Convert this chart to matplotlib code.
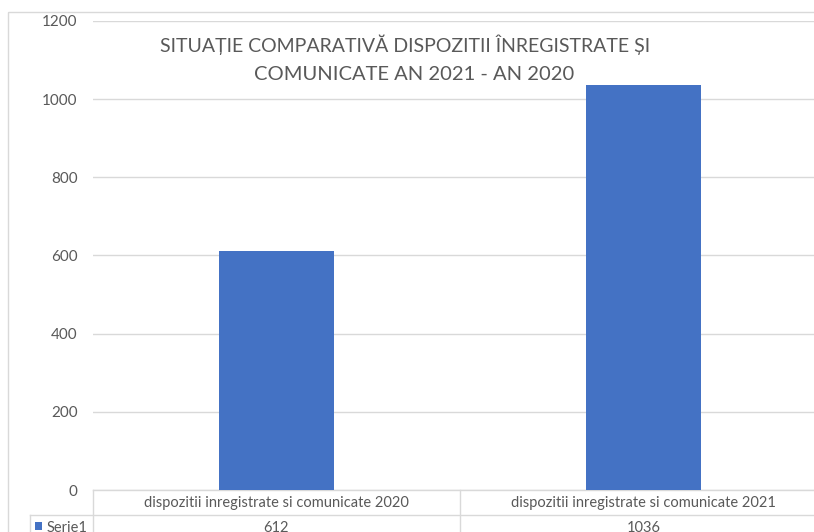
import matplotlib
matplotlib.use("Agg")
import matplotlib.pyplot as plt
from matplotlib.patches import Rectangle
from matplotlib.lines import Line2D
from matplotlib.transforms import blended_transform_factory, Affine2D

categories = ["dispozitii inregistrate si comunicate 2020",
              "dispozitii inregistrate si comunicate 2021"]
values = [612, 1036]
series_name = "Serie1"
title_lines = ["SITUAȚIE COMPARATIVĂ DISPOZITII ÎNREGISTRATE ȘI",
               "COMUNICATE AN 2021 - AN 2020"]
yticks = [0, 200, 400, 600, 800, 1000, 1200]

W, H = 814, 532
plt.rcParams['font.family'] = ['Lato', 'DejaVu Sans']
fig = plt.figure(figsize=(W / 100, H / 100), dpi=100)
fig.patch.set_facecolor("white")

GRAY = "#d9d9d9"
TXT = "#595959"
BLUE = "#4472c4"

# pixel transform (origin top-left)
pix = Affine2D().scale(1 / W, -1 / H).translate(0, 1) + fig.transFigure

# chart border
fig.add_artist(Rectangle((8, 12), 900, 600, transform=pix, fill=False,
                         edgecolor=GRAY, linewidth=1.0))

x0, x1, ybot, ytop = 93, 814, 490, 21
cat_w = 367
ax = fig.add_axes([x0 / W, (H - ybot) / H, (x1 - x0) / W, (ybot - ytop) / H])
ax.set_xlim(-0.5, -0.5 + (x1 - x0) / cat_w)
ax.set_ylim(0, 1200)
xs = list(range(len(categories)))
ax.bar(xs, values, width=0.314, color=BLUE, zorder=3)
ax.set_yticks(yticks)
ax.set_yticklabels([str(v) for v in yticks], color=TXT, fontsize=11)
ax.tick_params(axis='y', length=0, pad=11)
ax.set_xticks([])
ax.grid(axis='y', color=GRAY, linewidth=1.0, zorder=0)
for s in ax.spines.values():
    s.set_visible(False)

# data table
bt = blended_transform_factory(ax.transData, pix)
ax.add_line(Line2D([-0.5, 3], [490, 490], transform=bt, color=GRAY, lw=1.0, clip_on=False))
ax.add_line(Line2D([-0.5 - 63 / cat_w, 3], [515, 515], transform=bt, color=GRAY, lw=1.0, clip_on=False))
ax.add_line(Line2D([-0.5, -0.5], [490, 540], transform=bt, color=GRAY, lw=1.0, clip_on=False))
ax.add_line(Line2D([-0.5 - 63 / cat_w] * 2, [515, 540], transform=bt, color=GRAY, lw=1.0, clip_on=False))
for i in xs:
    ax.add_line(Line2D([i + 0.5, i + 0.5], [490, 540], transform=bt, color=GRAY, lw=1.0, clip_on=False))
    ax.text(i, 503, categories[i], transform=bt, ha='center', va='center',
            color=TXT, fontsize=10.5, clip_on=False)
    ax.text(i, 528, str(values[i]), transform=bt, ha='center', va='center',
            color=TXT, fontsize=10.5, clip_on=False)
fig.add_artist(Rectangle((35, 522), 7, 8, transform=pix, facecolor=BLUE, edgecolor='none'))
fig.text(47, 528, series_name, transform=pix, ha='left', va='center', color=TXT, fontsize=10.5)

# title
fig.text(405, 45, title_lines[0], transform=pix, ha='center', va='center', color=TXT,
         fontsize=14)
fig.text(414, 75, title_lines[1], transform=pix, ha='center', va='center', color=TXT,
         fontsize=14.5)

fig.savefig("out.png", dpi=100)
